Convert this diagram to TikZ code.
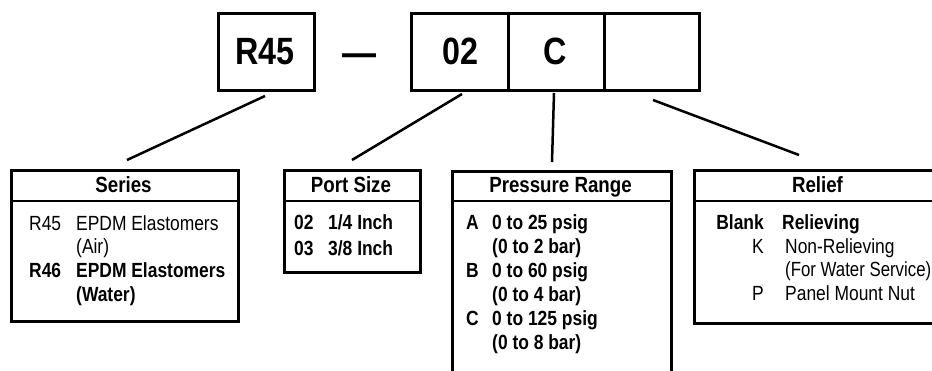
\documentclass[tikz,border=0pt]{standalone}
\usepackage{fontspec}
\setmainfont{Liberation Sans}[FakeStretch=0.85]
\begin{document}
\tikzset{
  box/.style={draw, line width=2.8pt, inner sep=0pt, anchor=north west},
  conn/.style={line width=2.5pt},
  divl/.style={line width=2.5pt},
  bigtxt/.style={font=\fontsize{38}{40}\selectfont\bfseries, anchor=base, inner sep=0pt},
  head/.style={font=\fontsize{22}{24}\selectfont\bfseries, anchor=base, inner sep=0pt},
  body/.style={font=\fontsize{20.5}{23}\selectfont, anchor=base west, inner sep=0pt},
  bbody/.style={font=\fontsize{20.5}{23}\selectfont\bfseries, anchor=base west, inner sep=0pt},
  codeR/.style={font=\fontsize{20.5}{23}\selectfont, anchor=base east, inner sep=0pt},
  bcodeR/.style={font=\fontsize{20.5}{23}\selectfont\bfseries, anchor=base east, inner sep=0pt},
}
\begin{tikzpicture}[x=1pt,y=-1pt]
\useasboundingbox (0,0) rectangle (932,371);
\clip (0,0) rectangle (932,371);
% ---- top code boxes
\node[box, minimum width=96pt, minimum height=77pt] (r45box) at (217,12) {};
\node[bigtxt] (r45) at (265,64.5) {R45};
\node[font=\fontsize{40}{40}\selectfont\bfseries, inner sep=0pt] (dash) at (359.5,60) {—};
\node[box, minimum width=97pt, minimum height=77pt] (portbox) at (410,12) {};
\node[box, minimum width=96pt, minimum height=77pt] (pressbox) at (507,12) {};
\node[box, minimum width=95pt, minimum height=77pt] (reliefbox) at (603,12) {};
\node[bigtxt] (t02) at (460,64.5) {02};
\node[bigtxt] (tC) at (555,64.5) {C};
% ---- connectors
\coordinate (a1) at (265,96);  \coordinate (a2) at (127,160);
\coordinate (b1) at (462,94);  \coordinate (b2) at (352,160);
\coordinate (c1) at (554,93);  \coordinate (c2) at (552,162);
\coordinate (d1) at (653,100); \coordinate (d2) at (799,155);
\draw[conn] (a1) -- (a2);
\draw[conn] (b1) -- (b2);
\draw[conn] (c1) -- (c2);
\draw[conn] (d1) -- (d2);
% ---- Series
\node[box, minimum width=227pt, minimum height=151pt] (series) at (10,169) {};
\draw[divl] (series.west |- 0,201) -- (series.east |- 0,201);
\node[head] (seriesh) at (123.5,193) {Series};
\node[body] at (29,231) {R45};
\node[body] at (76,231) {EPDM Elastomers};
\node[body] at (76,254) {(Air)};
\node[bbody] at (29,278) {R46};
\node[bbody] at (76,278) {EPDM Elastomers};
\node[bbody] at (76,302) {(Water)};
% ---- Port Size
\node[box, minimum width=136pt, minimum height=102pt] (port) at (283,169) {};
\draw[divl] (port.west |- 0,201) -- (port.east |- 0,201);
\node[head] (porth) at (351,193) {Port Size};
\node[bbody] at (294,230) {02};
\node[bbody] at (328,230) {1/4 Inch};
\node[bbody] at (294,256) {03};
\node[bbody] at (328,256) {3/8 Inch};
% ---- Pressure Range
\node[box, minimum width=219pt, minimum height=230pt] (press) at (451,170) {};
\draw[divl] (press.west |- 0,201) -- (press.east |- 0,201);
\node[head] (pressh) at (560.5,193) {Pressure Range};
\node[bbody] at (466,230) {A};
\node[bbody] at (492,230) {0 to 25 psig};
\node[bbody] at (492,254) {(0 to 2 bar)};
\node[bbody] at (466,278) {B};
\node[bbody] at (492,278) {0 to 60 psig};
\node[bbody] at (492,302) {(0 to 4 bar)};
\node[bbody] at (466,326) {C};
\node[bbody] at (492,326) {0 to 125 psig};
\node[bbody] at (492,350) {(0 to 8 bar)};
% ---- Relief
\node[box, minimum width=270pt, minimum height=153pt] (relief) at (693,169) {};
\draw[divl] (relief.west |- 0,201) -- (relief.east |- 0,201);
\node[head] (reliefh) at (817.5,193) {Relief};
\node[bcodeR] at (764,230) {Blank};
\node[bbody] at (782,230) {Relieving};
\node[codeR] at (764,254) {K};
\node[body] at (785,254) {Non-Relieving};
\node[body, font=\fontsize{20.5}{23}\selectfont\addfontfeature{FakeStretch=0.82}] at (785,277) {(For Water Service)};
\node[codeR] at (764,301) {P};
\node[body] at (785,301) {Panel Mount Nut};
\end{tikzpicture}
\end{document}
